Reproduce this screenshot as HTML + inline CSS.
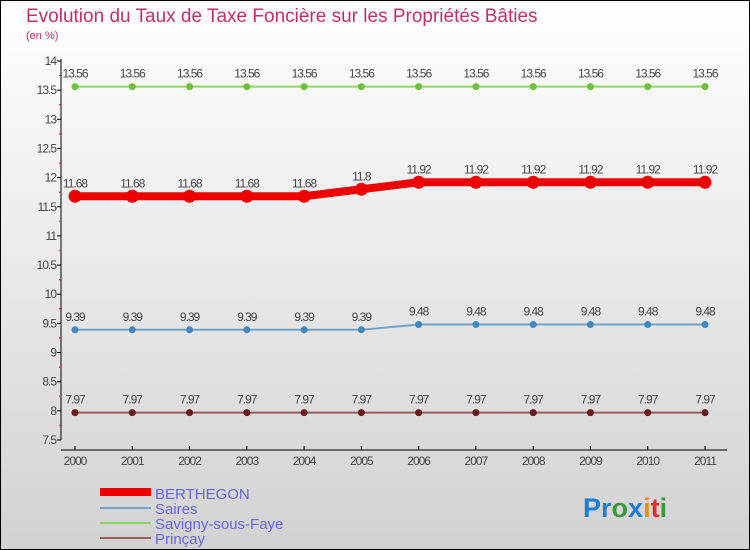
<!DOCTYPE html>
<html><head><meta charset="utf-8"><style>
body{margin:0}
#c{width:750px;height:550px;position:relative;overflow:hidden;box-sizing:border-box;border:1px solid #000;background:linear-gradient(#ffffff,#d2d2d2);font-family:"Liberation Sans",sans-serif}
</style></head><body>
<div id="c">
<svg width="750" height="550" style="position:absolute;left:-1px;top:-1px" id="svg">
<text x="26" y="22" font-size="19" fill="#c0306a">Evolution du Taux de Taxe Foncière sur les Propriétés Bâties</text>
<text x="26" y="39" font-size="11" fill="#c0306a">(en %)</text>
<g id="axes"></g><g id="series"></g>
<g>
<rect x="100" y="488" width="51" height="8" fill="#e00"/>
<text x="155" y="499" font-size="15" fill="#6666ee">BERTHEGON</text>
<rect x="100" y="507" width="51" height="2" fill="#6fa4cf"/>
<text x="155" y="514" font-size="15" fill="#6666ee">Saires</text>
<rect x="100" y="522" width="51" height="2" fill="#8fd46a"/>
<text x="155" y="529" font-size="15" fill="#6666ee">Savigny-sous-Faye</text>
<rect x="100" y="537" width="51" height="2" fill="#945f5f"/>
<text x="155" y="544" font-size="15" fill="#6666ee">Prinçay</text>
</g>
<text x="583" y="517" font-size="27" font-weight="bold"><tspan fill="#1a7fd8">Pr</tspan><tspan fill="#3a9a3a">o</tspan><tspan fill="#1a7fd8">x</tspan><tspan fill="#f08a10">i</tspan><tspan fill="#e03020">t</tspan><tspan fill="#3a9a3a">i</tspan></text>
</svg>
</div>
<script>
const years=["2000","2001","2002","2003","2004","2005","2006","2007","2008","2009","2010","2011"];
const berthegon=[11.68,11.68,11.68,11.68,11.68,11.8,11.92,11.92,11.92,11.92,11.92,11.92];
const saires=[9.39,9.39,9.39,9.39,9.39,9.39,9.48,9.48,9.48,9.48,9.48,9.48];
const savigny=[13.56,13.56,13.56,13.56,13.56,13.56,13.56,13.56,13.56,13.56,13.56,13.56];
const princay=[7.97,7.97,7.97,7.97,7.97,7.97,7.97,7.97,7.97,7.97,7.97,7.97];
const yTicks=["7.5","8","8.5","9","9.5","10","10.5","11","11.5","12","12.5","13","13.5","14"];
const NS="http://www.w3.org/2000/svg";
const X=i=>75+i*(630/11);
const Y=v=>440-(v-7.5)*(379/6.5);
function mk(t,a,p){const e=document.createElementNS(NS,t);for(const k in a)e.setAttribute(k,a[k]);p.appendChild(e);return e;}
const ax=document.getElementById('axes');
let l=mk('line',{x1:61,y1:Y(14)-2,x2:61,y2:440,stroke:'#000'},ax);

l=mk('line',{x1:61,y1:450,x2:727,y2:450,stroke:'#000'},ax);

yTicks.forEach((t,i)=>{const v=parseFloat(t),y=Y(v);
 mk('line',{x1:57,y1:y,x2:61,y2:y,stroke:'#000'},ax);
 if(i<yTicks.length-1)mk('line',{x1:59,y1:Y(v+0.25),x2:61,y2:Y(v+0.25),stroke:'#e00'},ax);
 const e=mk('text',{x:56,y:y+4,'font-size':12,fill:'#444','text-anchor':'end','letter-spacing':'-1'},ax);e.textContent=t;
 });
years.forEach((t,i)=>{const x=X(i);
 mk('line',{x1:x,y1:446,x2:x,y2:450,stroke:'#000'},ax);
 const e=mk('text',{x:x,y:465,'font-size':12,fill:'#444','text-anchor':'middle','letter-spacing':'-1'},ax);e.textContent=t;
 });
const sg=document.getElementById('series');
function draw(name,data,col,dot,w,r){
 const g=mk('g',{},sg);
 const p=mk('polyline',{points:data.map((v,i)=>X(i)+','+Y(v)).join(' '),fill:'none',stroke:col,'stroke-width':w},g);
 
 data.forEach((v,i)=>{const c=mk('circle',{cx:X(i),cy:Y(v),r:r,fill:dot},g);
  
  const t=mk('text',{x:X(i),y:Y(v)-9,'font-size':12,fill:'#444','text-anchor':'middle','letter-spacing':'-1'},g);t.textContent=v;
  });
}
draw('savigny',savigny,'#8fd46a','#6cc23a',2,3.5);
draw('saires',saires,'#6fa4cf','#3f88c4',2,3.5);
draw('princay',princay,'#945f5f','#6a1a1a',2,3.5);
draw('berthegon',berthegon,'#e00','#e00',8,6.5);
</script>
</body></html>
